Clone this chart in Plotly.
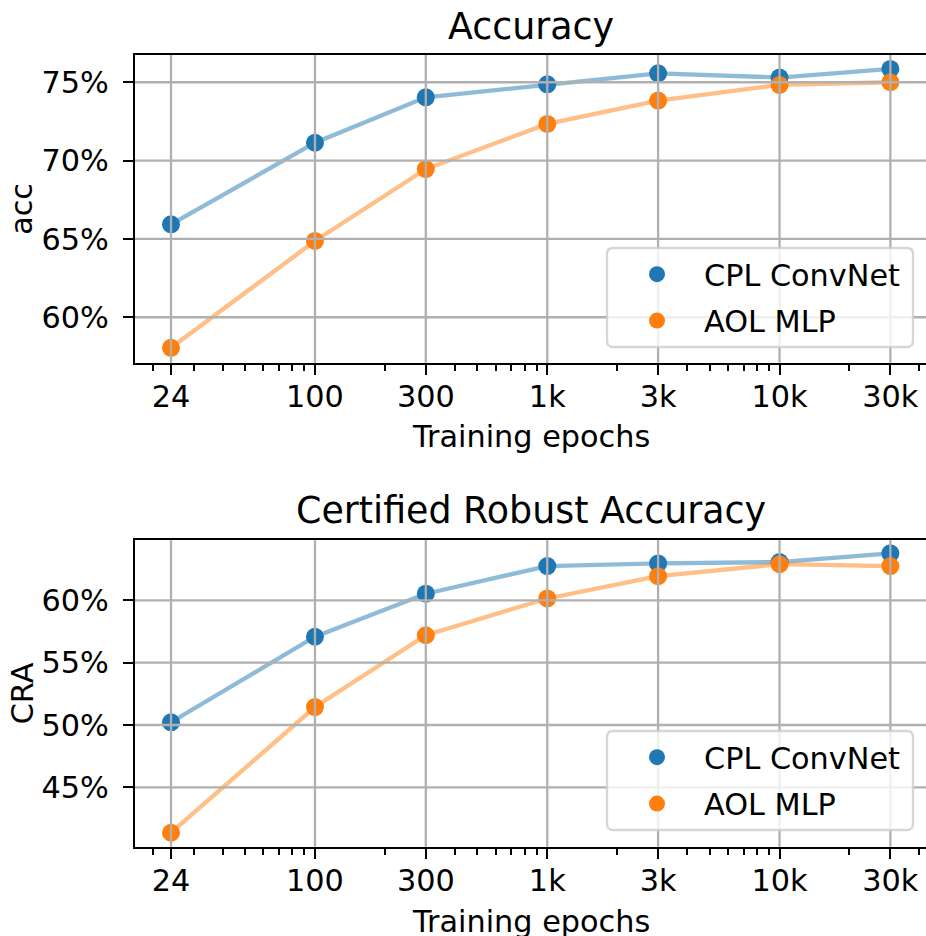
import plotly.graph_objects as go

# ---------------- data ----------------
epochs = [24, 100, 300, 1000, 3000, 10000, 30000]
epoch_labels = ["24", "100", "300", "1k", "3k", "10k", "30k"]

acc_cpl = [65.93, 71.14, 74.04, 74.87, 75.57, 75.30, 75.85]
acc_aol = [58.05, 64.87, 69.46, 72.34, 73.83, 74.83, 75.00]

cra_cpl = [50.22, 57.08, 60.53, 62.75, 62.96, 63.07, 63.77]
cra_aol = [41.36, 51.44, 57.20, 60.15, 61.94, 62.90, 62.75]

acc_ticks = [60, 65, 70, 75]
cra_ticks = [45, 50, 55, 60]

series_names = ["CPL ConvNet", "AOL MLP"]

# ---------------- style ----------------
W, H = 926, 936
FONT = "DejaVu Sans"
FS = 30.3
FS_T = 36.4
BLUE = "#1f77b4"
ORANGE = "#ff7f0e"
BLUE_A = "rgba(31,119,180,0.5)"
ORANGE_A = "rgba(255,127,14,0.5)"
GRID = "#b0b0b0"

# pixel geometry (from reference)
ax_left, ax_right = 135, 926.5
top_ax = (55, 362.7)
bot_ax = (540, 846.7)


def py(p):
    return 1 - p / H


fig = go.Figure()

panels = [
    ("x", "y", acc_cpl, acc_aol, "legend"),
    ("x2", "y2", cra_cpl, cra_aol, "legend2"),
]
for xa, ya, cpl, aol, lg in panels:
    for vals, col_a in [(cpl, BLUE_A), (aol, ORANGE_A)]:
        fig.add_trace(go.Scatter(x=epochs, y=vals, mode="lines",
                                 line=dict(color=col_a, width=4.3),
                                 xaxis=xa, yaxis=ya, showlegend=False,
                                 hoverinfo="skip"))
    for i, (vals, col) in enumerate([(cpl, BLUE), (aol, ORANGE)]):
        fig.add_trace(go.Scatter(x=epochs, y=vals, mode="markers",
                                 marker=dict(color=col, size=18, line=dict(width=0)),
                                 name=series_names[i], legendgroup=lg + str(i),
                                 xaxis=xa, yaxis=ya, legend=lg))

# minor tick positions of a log axis
minor_vals = [m * 10 ** d for d in range(1, 5) for m in range(2, 10)]

x_dom = [ax_left / W, 1.0]
x_range = [1.2252, 4.6305]

xcommon = dict(
    type="log", range=x_range, domain=x_dom, automargin=False,
    tickmode="array", tickvals=epochs, ticktext=epoch_labels,
    ticks="outside", ticklen=10, tickwidth=2.3, tickcolor="black",
    showline=True, linecolor="black", linewidth=2.3, mirror=True,
    showgrid=False, zeroline=False,
    tickfont=dict(family=FONT, size=FS, color="black"),
    ticklabelstandoff=-4,
    minor=dict(tickmode="array", tickvals=minor_vals, ticks="outside",
               ticklen=5.8, tickwidth=1.7, tickcolor="black", showgrid=False),
)
ycommon = dict(
    ticks="outside", ticklen=10, tickwidth=2.3, tickcolor="black",
    showline=True, linecolor="black", linewidth=2.3, mirror=False,
    showgrid=False, zeroline=False, automargin=False,
    tickfont=dict(family=FONT, size=FS, color="black"),
    ticklabelstandoff=8,
)

legend_common = dict(xanchor="left", yanchor="top",
                     bgcolor="rgba(0,0,0,0)", borderwidth=0,
                     font=dict(family=FONT, size=FS), itemwidth=84,
                     itemsizing="trace", tracegroupgap=4)

fig.update_layout(
    width=W, height=H,
    margin=dict(l=0, r=0, t=0, b=0),
    paper_bgcolor="white", plot_bgcolor="white",
    font=dict(family=FONT, size=FS, color="black"),
    xaxis=dict(**xcommon, anchor="y"),
    xaxis2=dict(**xcommon, anchor="y2"),
    yaxis=dict(**ycommon, anchor="x", domain=[py(top_ax[1]), py(top_ax[0])],
               range=[57.1, 76.74], tickmode="array", tickvals=acc_ticks,
               ticktext=[f"{v}%" for v in acc_ticks]),
    yaxis2=dict(**ycommon, anchor="x2", domain=[py(bot_ax[1]), py(bot_ax[0])],
                range=[40.24, 64.84], tickmode="array", tickvals=cra_ticks,
                ticktext=[f"{v}%" for v in cra_ticks]),
    legend=dict(x=610 / W, y=py(248), **legend_common),
    legend2=dict(x=610 / W, y=py(731), **legend_common),
    showlegend=True,
)

# grid lines drawn above the data, as in the reference
shapes = []
for xa, ya, yt in [("x", "y", acc_ticks), ("x2", "y2", cra_ticks)]:
    for v in epochs:
        shapes.append(dict(type="line", xref=xa, yref=ya + " domain",
                           x0=v, x1=v, y0=0, y1=1, layer="above",
                           line=dict(color=GRID, width=2.3)))
    for v in yt:
        shapes.append(dict(type="line", xref=xa + " domain", yref=ya,
                           x0=0, x1=1, y0=v, y1=v, layer="above",
                           line=dict(color=GRID, width=2.3)))


# rounded legend frames (matplotlib style)
def rounded_box(x0, y0, x1, y1, r=6):
    X = lambda v: v / W
    Y = lambda v: py(v)
    return (f"M {X(x0 + r)},{Y(y0)} L {X(x1 - r)},{Y(y0)} "
            f"Q {X(x1)},{Y(y0)} {X(x1)},{Y(y0 + r)} L {X(x1)},{Y(y1 - r)} "
            f"Q {X(x1)},{Y(y1)} {X(x1 - r)},{Y(y1)} L {X(x0 + r)},{Y(y1)} "
            f"Q {X(x0)},{Y(y1)} {X(x0)},{Y(y1 - r)} L {X(x0)},{Y(y0 + r)} "
            f"Q {X(x0)},{Y(y0)} {X(x0 + r)},{Y(y0)} Z")


for (y0, y1) in [(248, 347), (731, 830)]:
    shapes.append(dict(type="path", xref="paper", yref="paper",
                       path=rounded_box(607, y0, 913, y1), layer="above",
                       fillcolor="rgba(255,255,255,0.8)",
                       line=dict(color="rgba(204,204,204,0.8)", width=2.3)))
fig.update_layout(shapes=shapes)

cx = ((ax_left + ax_right) / 2) / W
ann = [
    dict(text="Accuracy", x=cx, y=py(26), size=FS_T),
    dict(text="Certified Robust Accuracy", x=cx, y=py(511), size=FS_T),
    dict(text="Training epochs", x=cx, y=py(436), size=FS),
    dict(text="Training epochs", x=cx, y=py(921), size=FS),
]
annotations = [dict(text=a["text"], x=a["x"], y=a["y"], xref="paper", yref="paper",
                    xanchor="center", yanchor="middle", showarrow=False,
                    font=dict(family=FONT, size=a["size"], color="black"))
               for a in ann]
annotations += [
    dict(text="acc", x=22 / W, y=py((top_ax[0] + top_ax[1]) / 2), textangle=-90,
         xref="paper", yref="paper", xanchor="center", yanchor="middle",
         showarrow=False, font=dict(family=FONT, size=FS, color="black")),
    dict(text="CRA", x=22 / W, y=py((bot_ax[0] + bot_ax[1]) / 2), textangle=-90,
         xref="paper", yref="paper", xanchor="center", yanchor="middle",
         showarrow=False, font=dict(family=FONT, size=FS, color="black")),
]
fig.update_layout(annotations=annotations)

# the page is photographed at exactly the figure size: remove the default body margin
fig.write_html("out.html",
               config={"displayModeBar": False},
               post_script="document.body.style.margin='0';document.body.style.overflow='hidden';")
